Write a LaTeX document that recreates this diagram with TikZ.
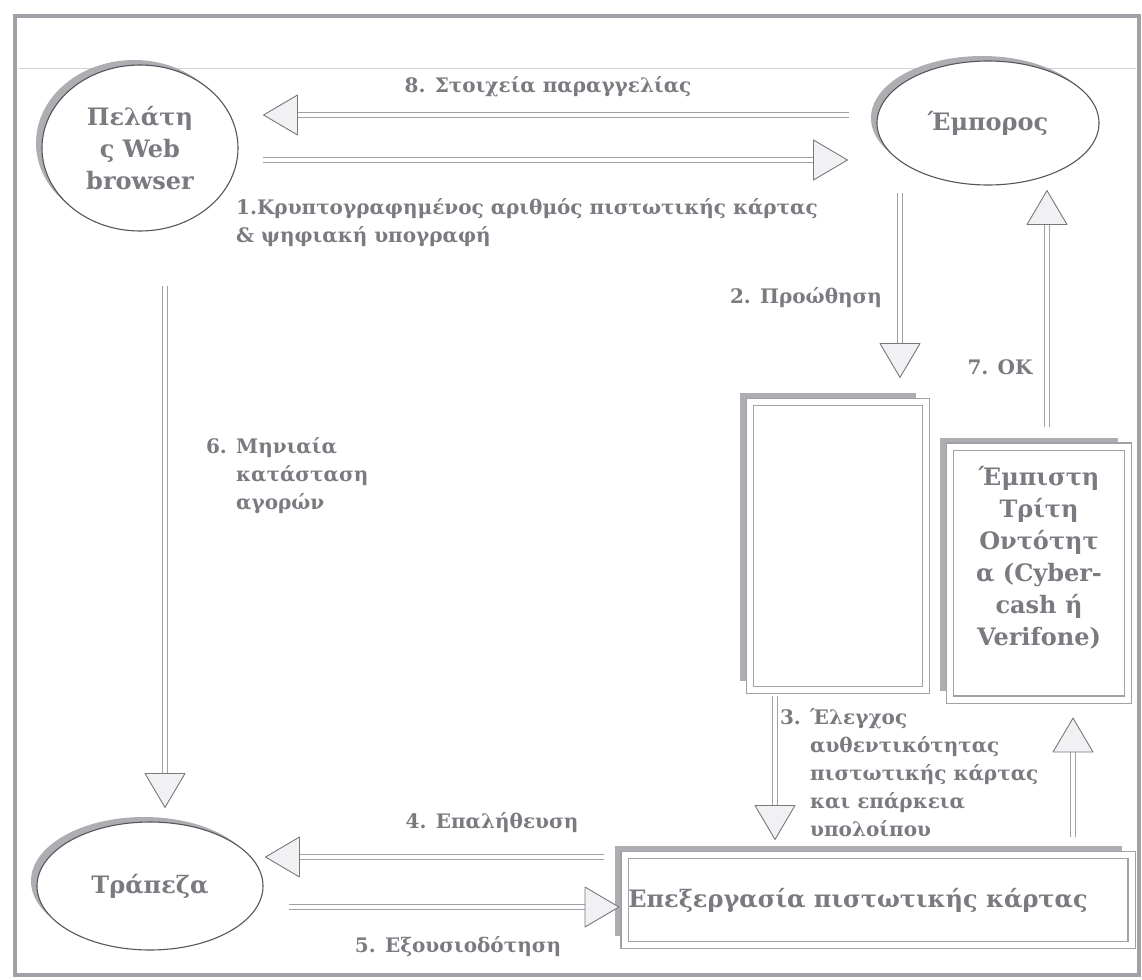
\documentclass[tikz,border=0pt]{standalone}
\usepackage{fontspec}
\setmainfont{DejaVu Serif}
\usetikzlibrary{calc,shadows,shapes.geometric}

\definecolor{ink}{HTML}{7A7A80}
\definecolor{rulegray}{HTML}{A0A0A6}
\definecolor{shade}{HTML}{ADADB2}
\definecolor{edge}{HTML}{55555C}
\definecolor{headfill}{HTML}{F1F1F4}

\tikzset{
  lbl/.style={text=ink, inner sep=0pt, font=\fontsize{20}{28}\selectfont\bfseries},
  party/.style={ellipse, draw=edge, line width=1.1pt, fill=white, inner sep=0pt,
    text=ink, align=center, font=\fontsize{24}{32}\selectfont\bfseries,
    general shadow={shadow xshift=-6pt, shadow yshift=5pt, fill=shade}},
  panel/.style={rectangle, draw=rulegray, line width=1.1pt, double=white,
    double distance=6pt, fill=white, inner sep=0pt, text=ink,
    font=\fontsize{24}{32}\selectfont\bfseries,
    general shadow={shadow xshift=-10pt, shadow yshift=9pt, fill=shade}},
  flowshaft/.style={draw=rulegray, line width=1.8pt, double=white,
    double distance=3.2pt, shorten >=28pt},
  flowhead/.style={draw=edge!80, fill=headfill, line width=0.9pt, line join=round},
  outerframe/.style={draw=rulegray, line width=4pt},
}

% double-line flow arrow with a hollow triangular head
\newcommand\flowarrow[2]{%
  \draw[flowshaft] (#1) -- (#2);
  \draw[flowhead] (#2) -- ($(#2)!39.4pt!30.5:(#1)$) -- ($(#2)!39.4pt!-30.5:(#1)$) -- cycle;
}

\begin{document}
\begin{tikzpicture}[x=1pt, y=-1pt]
\useasboundingbox (0,0) rectangle (1142,979);

% page frame
\draw[outerframe] (15,16) rectangle (1139,975);
\draw[rulegray!45, line width=0.8pt] (18,68) -- (1136,68);

% parties
\node[party, minimum width=196pt, minimum height=166pt] (client) at (140,148)
  {Πελάτη\\ς Web\\browser};
\node[party, minimum width=222pt, minimum height=124pt] (merchant) at (988,123)
  {Έμπορος};
\node[party, minimum width=226pt, minimum height=128pt] (bank) at (150,886)
  {Τράπεζα};

% processing boxes
\node[panel, minimum width=176pt, minimum height=288pt] (gateway) at (838,546) {};
% an empty last row lifts the caption towards the top of the box
\node[panel, minimum width=178pt, minimum height=253pt] (ttp) at (1039,573)
  {\begin{tabular}{@{}c@{}}Έμπιστη\\Τρίτη\\Οντότητ\\α (Cyber-\\cash ή\\Verifone)\\[-4pt]\mbox{}\end{tabular}};
% the caption sits a little left of the box centre
\node[panel, minimum width=507pt, minimum height=90pt] (proc) at (878,900)
  {\hspace*{-40pt}Επεξεργασία πιστωτικής κάρτας};

% arrow end points, taken from the nodes they join
\coordinate (a8s) at ($(merchant.west)+(-27,-8)$);
\coordinate (a8e) at ($(client.east)+(25,-33)$);
\coordinate (a1s) at ($(client.east)+(24,12)$);
\coordinate (a1e) at ($(merchant.west)+(-29,37)$);
\coordinate (a2s) at ($(merchant.south)+(-88,7)$);
\coordinate (a2e) at ($(gateway.north)+(62,-24)$);
\coordinate (a7s) at ($(ttp.north)+(8,-19)$);
\coordinate (a7e) at ($(merchant.south)+(59,5)$);
\coordinate (a6s) at ($(client.south)+(25,54)$);
\coordinate (a6e) at ($(bank.north)+(15,-14)$);
\coordinate (a3s) at ($(gateway.south)+(-63,5)$);
\coordinate (a3e) at ($(proc.north)+(-103,-15)$);
\coordinate (a9s) at ($(proc.north)+(195,-17)$);
\coordinate (a9e) at ($(ttp.south)+(34,18)$);
\coordinate (a4s) at ($(proc.west)+(-20,-43)$);
\coordinate (a4e) at ($(bank.east)+(2,-29)$);
\coordinate (a5s) at ($(bank.east)+(25,21)$);
\coordinate (a5e) at ($(proc.west)+(-5,7)$);

\flowarrow{a8s}{a8e}
\flowarrow{a1s}{a1e}
\flowarrow{a2s}{a2e}
\flowarrow{a7s}{a7e}
\flowarrow{a6s}{a6e}
\flowarrow{a3s}{a3e}
\flowarrow{a9s}{a9e}
\flowarrow{a4s}{a4e}
\flowarrow{a5s}{a5e}

% labels
\node[lbl] (t8) at (548,87) {8. Στοιχεία παραγγελίας};
\node[lbl, anchor=north west, align=left] (t1) at (236,198)
  {1.Κρυπτογραφημένος αριθμός πιστωτικής κάρτας\\\& ψηφιακή υπογραφή};
\node[lbl] (t2) at (806,298) {2. Προώθηση};
\node[lbl] (t7) at (1000,367) {7. OK};
\node[lbl, anchor=north west, align=left] (t6) at (236,437)
  {\llap{6. }Μηνιαία\\κατάσταση\\αγορών};
\node[lbl, anchor=north west, align=left] (t3) at (810,708)
  {\llap{3. }Έλεγχος\\αυθεντικότητας\\πιστωτικής κάρτας\\και επάρκεια\\υπολοίπου};
\node[lbl] (t4) at (492,823) {4. Επαλήθευση};
\node[lbl] (t5) at (458,947) {5. Εξουσιοδότηση};
\end{tikzpicture}
\end{document}
